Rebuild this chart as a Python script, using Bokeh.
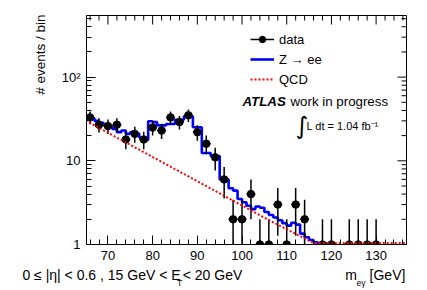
import numpy as np
from bokeh.plotting import figure
from bokeh.models import (Range1d, FixedTicker, Label, Legend, LegendItem,
                          LinearAxis, LogAxis)
from bokeh.embed import file_html
from bokeh.resources import INLINE

# ---------------- data ----------------
data_x = [66, 68, 70, 72, 74, 76, 78, 80, 82, 84, 86, 88, 90, 92, 94, 96, 98, 100,
          102, 104, 106, 108, 110, 112, 114, 118, 120, 124, 126, 128, 130]
data_n = [33, 27, 26, 27, 18, 21, 18, 25, 23, 33, 29, 35, 22, 16, 11, 6, 2, 2,
          4, 1, 1, 3, 1, 3, 2, 1, 1, 1, 1, 1, 1]
bin_half = 1.0

zee_edges = list(range(65, 122))
zee_vals = [34, 32, 30, 28.5, 27, 25.5, 24, 22, 23, 21, 22, 21.2, 19, 17.8,
            29.7, 29, 26.5, 26.5, 27.5, 27.5, 31, 31, 34, 34, 25.2, 25.2,
            12.4, 12.4, 11.4, 11.4, 6.0, 6.0, 4.7, 4.4, 3.5, 3.2, 2.9, 2.65,
            2.85, 2.75, 2.45, 2.25, 2.1, 1.95, 1.8, 1.68, 1.82, 1.73, 1.35,
            1.22, 1.13, 1.06, 1.03, 1.03, 1.03, 1.03]

qcd_x = [65, 75, 85, 95, 105, 116, 136.8]
qcd_y = [30.3, 15.5, 7.96, 4.08, 2.09, 1.04, 1.04]

x_ticks = [70, 80, 90, 100, 110, 120, 130]
x_minor = [66, 68, 72, 74, 76, 78, 82, 84, 86, 88, 92, 94, 96, 98, 102, 104, 106,
           108, 112, 114, 116, 118, 122, 124, 126, 128, 132, 134, 136]
y_ticks = [1, 10, 100]
y_minor = [2, 3, 4, 5, 6, 7, 8, 9, 20, 30, 40, 50, 60, 70, 80, 90, 200, 300, 400, 500]
y_labels = {1: "1", 10: "10", 100: "10²"}

X0, X1 = 65.2, 136.8
Y0, Y1 = 1.0, 545.0
FONT = "Liberation Sans"
W, H = 427, 290

p = figure(width=W, height=H, x_range=Range1d(X0, X1),
           y_range=Range1d(Y0, Y1), y_axis_type="log", output_backend="svg",
           toolbar_location=None, min_border_left=86, min_border_right=21,
           min_border_top=15, min_border_bottom=46)
p.grid.visible = False
p.outline_line_color = "black"
p.outline_line_width = 1
p.background_fill_color = "white"
p.border_fill_color = "white"

for ax in (p.xaxis[0], p.yaxis[0]):
    ax.major_tick_in = 9
    ax.major_tick_out = 0
    ax.minor_tick_in = 5
    ax.minor_tick_out = 0
    ax.axis_line_color = "black"
    ax.major_label_text_font = FONT
    ax.major_label_text_font_size = "13px"
    ax.major_label_text_color = "black"
    ax.major_label_standoff = 6

p.xaxis.ticker = FixedTicker(ticks=x_ticks, minor_ticks=x_minor)
p.yaxis.ticker = FixedTicker(ticks=y_ticks, minor_ticks=y_minor)
p.yaxis.major_label_overrides = y_labels

# ticks on the top and right frame edges (half of each dash is clipped by the frame)
p.scatter(x_ticks, [Y1] * len(x_ticks), marker="dash", angle=np.pi / 2, size=18,
          line_color="black", line_width=1)
p.scatter(x_minor, [Y1] * len(x_minor), marker="dash", angle=np.pi / 2, size=10,
          line_color="black", line_width=1)
p.scatter([X1] * len(y_ticks), y_ticks, marker="dash", size=18,
          line_color="black", line_width=1)
p.scatter([X1] * len(y_minor), y_minor, marker="dash", size=10,
          line_color="black", line_width=1)

# ---------------- glyphs ----------------
dn = np.array(data_n, dtype=float)
dx = np.array(data_x, dtype=float)
err = np.sqrt(dn)
lo = np.maximum(dn - err, 0.3)
hi = dn + err

zee = p.step(x=zee_edges, y=zee_vals + [zee_vals[-1]], mode="after",
             line_color="#0000ff", line_width=2.6)
vseg = p.segment(x0=dx, y0=lo, x1=dx, y1=hi, line_color="black", line_width=1.5)
hseg = p.segment(x0=dx - bin_half, y0=dn, x1=dx + bin_half, y1=dn,
                 line_color="black", line_width=1.5)
dots = p.scatter(dx, dn, size=7.5, color="black")
qcd = p.line(qcd_x, qcd_y, line_color="#ff0000", line_width=2, line_dash="2 2")

legend = Legend(items=[LegendItem(label="data", renderers=[hseg, dots]),
                       LegendItem(label="Z → ee", renderers=[zee]),
                       LegendItem(label="QCD", renderers=[qcd])],
                location=(164, 157), background_fill_alpha=0,
                border_line_alpha=0, padding=0, margin=0, spacing=4,
                glyph_width=24, glyph_height=16, label_height=16,
                label_standoff=5, label_text_font=FONT,
                label_text_font_size="13px", label_text_color="black")
p.add_layout(legend)

# ---------------- text ----------------
def px_x(X):
    return round(X0 + (X - 86) * (X1 - X0) / 320.0, 3)

def px_y(Y):
    return round(10 ** ((244 - Y) / 229.0 * np.log10(Y1 / Y0)), 3)

def lab(text, X, Y, size, align="left", style="normal", font=FONT):
    p.add_layout(Label(x=px_x(X), y=px_y(Y), text=text, text_font=font,
                       text_font_size=size, text_font_style=style,
                       text_align=align, text_baseline="middle",
                       text_color="black"))

lab("ATLAS", 242, 101, "13.3px", style="bold italic")
lab("work in progress", 290, 101, "13.3px")
lab("∫", 301.5, 125, "24px", align="center", font="DejaVu Sans")
lab("L dt = 1.04 fb⁻¹", 306, 125, "11px")

# texts outside the frame: carried by label-only axes
def text_axis(axis, place, positions, texts, size, standoff, vertical=False):
    axis.ticker = FixedTicker(ticks=positions, minor_ticks=[])
    axis.major_label_overrides = dict(zip(positions, texts))
    axis.axis_line_color = None
    axis.major_tick_line_color = None
    axis.minor_tick_line_color = None
    axis.major_tick_in = 0
    axis.major_tick_out = 0
    axis.major_label_text_font = FONT
    axis.major_label_text_font_size = size
    axis.major_label_text_color = "black"
    axis.major_label_standoff = standoff
    if vertical:
        axis.major_label_orientation = "vertical"
    p.add_layout(axis, place)

text_axis(LogAxis(), "left", [px_y(54.2)], ["# events / bin"], "13.5px", 10,
          vertical=True)
text_axis(LinearAxis(), "below",
          [px_x(101), px_x(212), px_x(350.5), px_x(387)],
          ["0 ≤ |η| < 0.6 , 15 GeV < E", "< 20 GeV", "m", "[GeV]"],
          "14px", 4)
text_axis(LinearAxis(), "below", [px_x(179), px_x(360.5)], ["T", "eγ"],
          "8.5px", -8)

open("out.html", "w").write(file_html(p, INLINE))
